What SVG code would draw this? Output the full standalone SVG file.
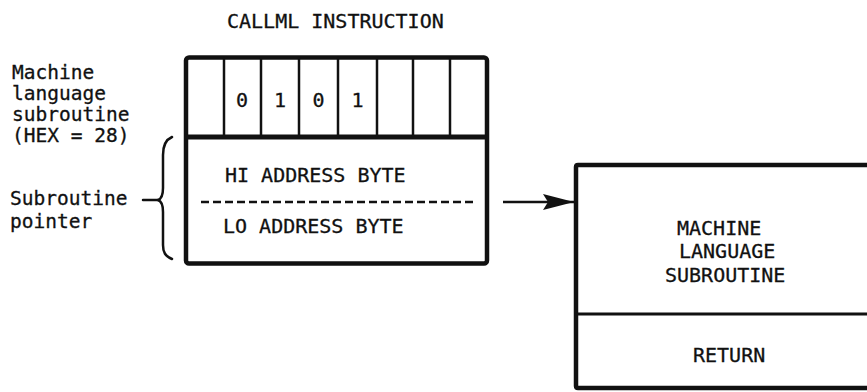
<svg xmlns="http://www.w3.org/2000/svg" width="867" height="392" viewBox="0 0 867 392">
  <style>
    text { font-family: "DejaVu Sans Mono", "Liberation Mono", monospace; font-size: 20px; fill: #111; stroke: #111; stroke-width: 0.3; }
    .side { font-size: 19.5px; }
    .mid { text-anchor: middle; }
    .frame { fill: none; stroke: #111; stroke-width: 4.5; stroke-linejoin: round; }
    .cell { stroke: #111; stroke-width: 2.5; }
    .thin { fill: none; stroke: #111; stroke-width: 2.5; stroke-linecap: round; stroke-linejoin: round; }
  </style>
  <defs>
    <marker id="arrowhead" viewBox="0 0 31 16" refX="31" refY="8" markerWidth="31" markerHeight="16" markerUnits="userSpaceOnUse" orient="auto">
      <path d="M0,0 L31,8 L0,16 L5,8 Z" fill="#111"/>
    </marker>
  </defs>

  <!-- title -->
  <text x="227" y="28">CALLML INSTRUCTION</text>

  <!-- side labels -->
  <g id="label-opcode">
    <text class="side" x="12" y="79">Machine</text>
    <text class="side" x="12" y="100">language</text>
    <text class="side" x="12" y="121">subroutine</text>
    <text class="side" x="12" y="142">(HEX = 28)</text>
  </g>
  <g id="label-pointer">
    <text class="side" x="10" y="205">Subroutine</text>
    <text class="side" x="10" y="228">pointer</text>
    <!-- tick and curly brace spanning the two address bytes -->
    <path class="thin" d="M143,200 H158"/>
    <path class="thin" d="M172,137 C165,140 163,146 163,155 V188 C163,195 161,199 158,200 C161,201 163,205 163,212 V245 C163,252 165,256 172,259"/>
  </g>

  <!-- CALLML instruction record -->
  <g id="callml-instruction">
    <rect class="frame" x="186" y="57.5" width="301" height="206" rx="3"/>
    <line x1="186" y1="137" x2="487" y2="137" stroke="#111" stroke-width="5"/>
    <g class="cell">
      <line x1="224" y1="58" x2="224" y2="137"/>
      <line x1="261" y1="58" x2="261" y2="137"/>
      <line x1="299" y1="58" x2="299" y2="137"/>
      <line x1="338" y1="58" x2="338" y2="137"/>
      <line x1="377" y1="58" x2="377" y2="137"/>
      <line x1="413" y1="58" x2="413" y2="137"/>
      <line x1="450" y1="58" x2="450" y2="137"/>
    </g>
    <text class="mid" x="242" y="107">0</text>
    <text class="mid" x="280" y="107">1</text>
    <text class="mid" x="318.5" y="107">0</text>
    <text class="mid" x="357.5" y="107">1</text>
    <text x="225" y="182">HI ADDRESS BYTE</text>
    <line x1="201" y1="202" x2="473" y2="202" stroke="#111" stroke-width="2.5" stroke-dasharray="8 4"/>
    <text x="223" y="233">LO ADDRESS BYTE</text>
  </g>

  <!-- machine language subroutine block -->
  <g id="ml-subroutine">
    <path class="frame" d="M872,165 H578 Q576,165 576,167 V386 Q576,388 578,388 H872"/>
    <line x1="576" y1="314" x2="872" y2="314" stroke="#111" stroke-width="3"/>
    <text x="677" y="235">MACHINE</text>
    <text x="679" y="258">LANGUAGE</text>
    <text x="665" y="282">SUBROUTINE</text>
    <text x="693" y="362">RETURN</text>
  </g>

  <!-- connector -->
  <g id="connectors">
    <line x1="503" y1="202" x2="574" y2="202" stroke="#111" stroke-width="2.5" marker-end="url(#arrowhead)"/>
  </g>
</svg>
